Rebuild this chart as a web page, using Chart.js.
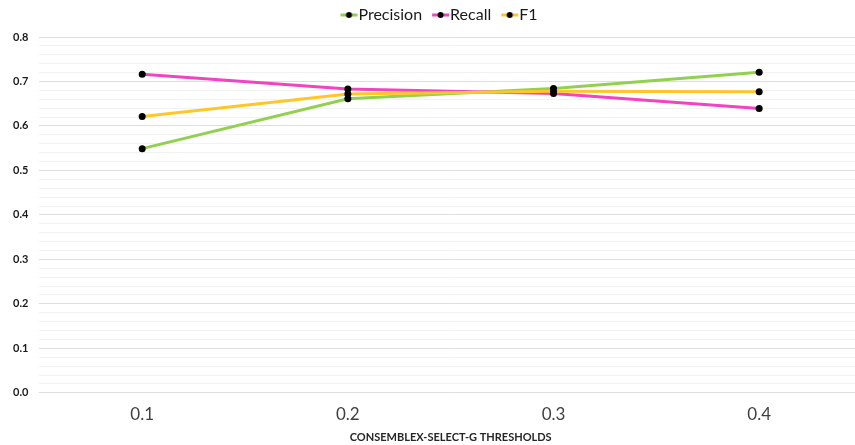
<!DOCTYPE html>
<html>
<head>
<meta charset="utf-8">
<script src="https://cdn.jsdelivr.net/npm/chart.js@4/dist/chart.umd.min.js"></script>
<style>
  html, body { margin: 0; padding: 0; background: #ffffff; overflow: hidden; }
  #wrap { position: relative; width: 866px; height: 445px; }
</style>
</head>
<body>
<div id="wrap"><canvas id="chart"></canvas></div>
<script>
// Thresholds on the x axis
const thresholds = ['0.1', '0.2', '0.3', '0.4'];

// Scores per threshold
const precision = [0.549, 0.661, 0.684, 0.721];
const recall    = [0.716, 0.683, 0.673, 0.639];
const f1        = [0.621, 0.672, 0.678, 0.677];

const seriesNames  = ['Precision', 'Recall', 'F1'];
const seriesColors = ['#92d050', '#f044c0', '#ffc62a'];

const yTickLabels = ['0.0', '0.1', '0.2', '0.3', '0.4', '0.5', '0.6', '0.7', '0.8'];

const FONT = "Lato, 'Open Sans', sans-serif";

// Legend marker: a short coloured line with a black dot in the middle
function legendMarker(color) {
  const c = document.createElement('canvas');
  c.width = 40; c.height = 10;
  const g = c.getContext('2d');
  g.strokeStyle = color;
  g.lineWidth = 3;
  g.beginPath();
  g.moveTo(16, 5); g.lineTo(33, 5);
  g.stroke();
  g.fillStyle = '#000';
  g.beginPath();
  g.arc(24.5, 5, 3, 0, Math.PI * 2);
  g.fill();
  return c;
}

const seriesData = [precision, recall, f1];
const datasets = seriesNames.map((name, i) => ({
  label: name,
  data: seriesData[i],
  borderColor: seriesColors[i],
  backgroundColor: '#000000',
  borderWidth: 3,
  pointRadius: 3.5,
  pointHoverRadius: 3.5,
  pointBackgroundColor: '#000000',
  pointBorderWidth: 0,
  pointStyle: 'circle',
  tension: 0,
  fill: false,
  order: 2 - i,
  _marker: legendMarker(seriesColors[i])
}));

const isMajor = v => Math.abs(v * 10 - Math.round(v * 10)) < 1e-6;

// Nudge the legend box a little up and to the right after layout
const legendNudge = {
  id: 'legendNudge',
  afterLayout(chart) {
    const lg = chart.legend;
    if (!lg) return;
    lg.left += 6; lg.right += 6;
    lg.top -= 4; lg.bottom -= 4;
  }
};

new Chart(document.getElementById('chart'), {
  type: 'line',
  data: { labels: thresholds, datasets },
  plugins: [legendNudge],
  options: {
    responsive: true,
    maintainAspectRatio: false,
    animation: false,
    layout: { padding: { left: 2, right: 4, top: 3, bottom: 1 } },
    plugins: {
      tooltip: { enabled: false },
      legend: {
        position: 'top',
        labels: {
          font: { family: FONT, size: 16 },
          color: '#1a1a1a',
          usePointStyle: true,
          pointStyleWidth: 12,
          padding: 8,
          sort: (a, b) => a.datasetIndex - b.datasetIndex,
          generateLabels: (chart) => chart.data.datasets.map((d, i) => ({
            text: d.label,
            datasetIndex: i,
            pointStyle: d._marker,
            fillStyle: d.borderColor,
            strokeStyle: d.borderColor,
            lineWidth: 0,
            hidden: false,
            fontColor: '#1a1a1a'
          }))
        }
      }
    },
    scales: {
      x: {
        offset: true,
        grid: { display: false },
        border: { display: false },
        ticks: {
          font: { family: FONT, size: 17, lineHeight: 1.0 },
          color: '#404040',
          padding: 5
        },
        title: {
          display: true,
          text: 'CONSEMBLEX-SELECT-G THRESHOLDS',
          font: { family: FONT, size: 11, weight: 'bold' },
          color: '#262626',
          padding: { top: 3, bottom: 0 }
        }
      },
      y: {
        min: 0,
        max: 0.8,
        border: { display: false },
        grid: {
          color: ctx => isMajor(ctx.tick.value) ? '#dedede' : '#f2f2f2',
          lineWidth: 1,
          drawTicks: false
        },
        ticks: {
          stepSize: 0.02,
          autoSkip: false,
          font: { family: FONT, size: 11, weight: 'bold' },
          color: '#1a1a1a',
          padding: 11,
          callback: (v) => isMajor(v) ? yTickLabels[Math.round(v * 10)] : ''
        }
      }
    }
  }
});
</script>
</body>
</html>
